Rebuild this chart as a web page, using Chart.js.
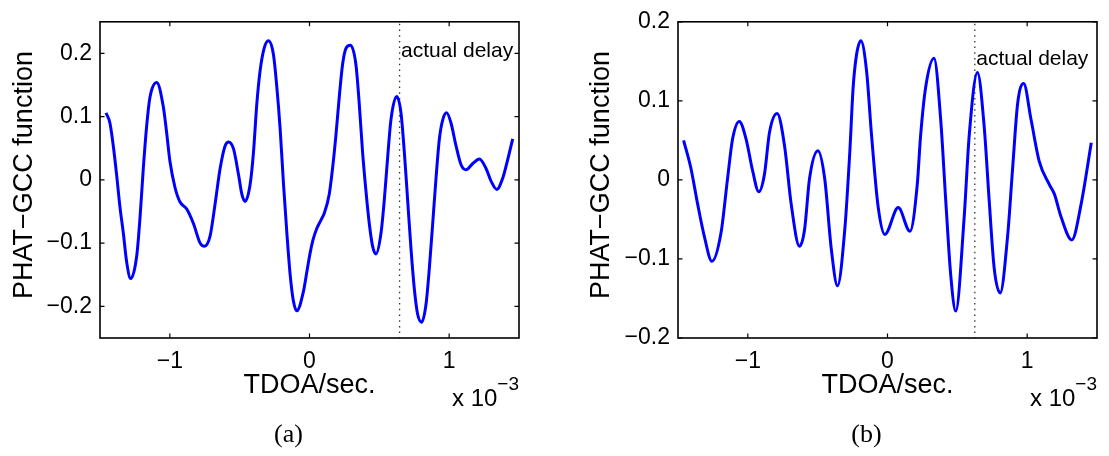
<!DOCTYPE html>
<html><head><meta charset="utf-8">
<script src="https://cdn.jsdelivr.net/npm/chart.js@4"></script>
<style>
html,body{margin:0;padding:0;background:#fff;width:1109px;height:456px;overflow:hidden}
canvas{position:absolute;top:0}
</style></head><body>
<canvas id="ca" width="555" height="456" style="left:0"></canvas>
<canvas id="cb" width="554" height="456" style="left:555px"></canvas>
<script>
// ---- data (TDOA in units of 1e-3 s) ----
const tdoaA=[-1.457,-1.429,-1.405,-1.381,-1.357,-1.333,-1.309,-1.280,-1.237,-1.213,-1.190,-1.166,-1.142,-1.094,-1.047,-1.023,-0.999,-0.963,-0.927,-0.879,-0.831,-0.783,-0.752,-0.712,-0.676,-0.640,-0.604,-0.580,-0.544,-0.508,-0.484,-0.461,-0.425,-0.401,-0.377,-0.354,-0.325,-0.294,-0.258,-0.234,-0.210,-0.186,-0.162,-0.138,-0.115,-0.091,-0.043,-0.015,0.005,0.025,0.050,0.081,0.105,0.141,0.165,0.189,0.213,0.237,0.261,0.292,0.332,0.356,0.380,0.404,0.428,0.452,0.476,0.512,0.535,0.559,0.583,0.624,0.655,0.679,0.703,0.727,0.750,0.774,0.803,0.834,0.858,0.882,0.906,0.930,0.954,0.982,1.013,1.049,1.085,1.121,1.169,1.217,1.264,1.300,1.341,1.384,1.420,1.455];
const phatA=[0.106,0.090,0.054,0.008,-0.043,-0.084,-0.130,-0.156,-0.120,-0.058,0.018,0.085,0.131,0.154,0.116,0.075,0.029,-0.012,-0.035,-0.046,-0.069,-0.100,-0.105,-0.089,-0.038,0.018,0.054,0.060,0.049,0.008,-0.023,-0.034,-0.007,0.044,0.121,0.172,0.208,0.220,0.198,0.147,0.080,-0.007,-0.084,-0.151,-0.192,-0.207,-0.176,-0.140,-0.115,-0.095,-0.078,-0.064,-0.053,-0.023,0.018,0.070,0.131,0.183,0.208,0.213,0.183,0.121,0.044,-0.017,-0.069,-0.105,-0.117,-0.084,-0.033,0.034,0.095,0.132,0.106,0.044,-0.033,-0.110,-0.171,-0.212,-0.225,-0.197,-0.140,-0.069,0.003,0.065,0.095,0.106,0.090,0.054,0.024,0.016,0.026,0.033,0.018,-0.002,-0.015,0.003,0.033,0.065];
const tdoaB=[-1.460,-1.408,-1.360,-1.312,-1.257,-1.192,-1.145,-1.109,-1.061,-1.013,-0.965,-0.922,-0.881,-0.845,-0.790,-0.737,-0.690,-0.630,-0.594,-0.558,-0.498,-0.450,-0.402,-0.358,-0.306,-0.270,-0.246,-0.222,-0.191,-0.150,-0.114,-0.067,-0.019,0.077,0.161,0.213,0.237,0.273,0.333,0.381,0.417,0.453,0.489,0.549,0.585,0.644,0.692,0.728,0.764,0.807,0.860,0.896,0.932,0.975,1.028,1.087,1.159,1.195,1.243,1.320,1.387,1.459];
const phatB=[0.050,0.015,-0.030,-0.071,-0.103,-0.067,0.002,0.052,0.074,0.052,0.011,-0.015,0.007,0.060,0.084,0.043,-0.030,-0.084,-0.063,0.002,0.037,0.002,-0.088,-0.134,-0.063,0.035,0.117,0.158,0.176,0.138,0.056,-0.034,-0.069,-0.035,-0.065,-0.006,0.056,0.117,0.154,0.076,-0.026,-0.121,-0.166,-0.047,0.056,0.136,0.068,-0.026,-0.112,-0.143,-0.071,0.015,0.097,0.122,0.076,0.023,-0.006,-0.018,-0.047,-0.076,-0.030,0.047];
const xTicks=[-1,0,1];
const yTicksA=[-0.2,-0.1,0,0.1,0.2];
const yTicksB=[-0.2,-0.1,0,0.1,0.2];
const delayA=0.645, delayB=0.625;
const yLabel='PHAT\u2212GCC function';
const xLabel='TDOA/sec.';
const delayText='actual delay';

const SANS='"Liberation Sans", Arial, Helvetica, sans-serif';
const SERIF='"Liberation Serif", "Times New Roman", serif';
const fmt=v=>v===0?'0':(v<0?'\u2212':'')+String(Math.abs(v));

const deco={
  id:'deco',
  beforeDatasetsDraw(chart){
    const o=chart.options.plugins.deco, a=chart.chartArea, ctx=chart.ctx;
    const px=chart.scales.x.getPixelForValue(o.delay);
    ctx.save();
    ctx.strokeStyle='#333';ctx.lineWidth=1.3;ctx.setLineDash([1.5,4.2]);
    ctx.beginPath();ctx.moveTo(px,a.top+2);ctx.lineTo(px,a.bottom);ctx.stroke();
    ctx.restore();
  },
  afterDatasetsDraw(chart){
    const a=chart.chartArea, ctx=chart.ctx, xs=chart.scales.x, ys=chart.scales.y;
    ctx.save();
    ctx.strokeStyle='#000';ctx.lineWidth=1.6;
    ctx.strokeRect(a.left,a.top,a.right-a.left,a.bottom-a.top);
    const L=4.5;
    ctx.beginPath();
    xs.ticks.forEach(t=>{const p=xs.getPixelForValue(t.value);
      ctx.moveTo(p,a.bottom);ctx.lineTo(p,a.bottom-L);ctx.moveTo(p,a.top);ctx.lineTo(p,a.top+L);});
    ys.ticks.forEach(t=>{const p=ys.getPixelForValue(t.value);
      ctx.moveTo(a.left,p);ctx.lineTo(a.left+L,p);ctx.moveTo(a.right,p);ctx.lineTo(a.right-L,p);});
    ctx.lineWidth=1.2;ctx.stroke();
    ctx.restore();
  },
  afterDraw(chart){
    const o=chart.options.plugins.deco, a=chart.chartArea, ctx=chart.ctx, xs=chart.scales.x, ys=chart.scales.y;
    ctx.save();ctx.fillStyle='#000';
    // y label
    ctx.font='27px '+SANS;ctx.textAlign='center';ctx.textBaseline='alphabetic';
    ctx.translate(o.yLabelX,175);ctx.rotate(-Math.PI/2);ctx.fillText(yLabel,0,0);
    ctx.setTransform(1,0,0,1,0,0);
    // x label
    const cx=xs.getPixelForValue(0);
    ctx.font='27px '+SANS;ctx.fillText(xLabel,cx,393);
    // exponent
    ctx.textAlign='right';
    ctx.font='19px '+SANS;ctx.fillText('\u22123',a.right,390);
    const w=ctx.measureText('\u22123').width;
    ctx.font='24px '+SANS;ctx.fillText('x 10',a.right-w,406);
    // actual delay
    ctx.textAlign='left';ctx.font='21px '+SANS;
    ctx.fillText(delayText,xs.getPixelForValue(o.delay)+1.5,ys.getPixelForValue(o.textY));
    // caption
    ctx.textAlign='center';ctx.font='26px '+SERIF;
    ctx.fillText(o.caption,cx-21,442);
    ctx.restore();
  }
};

function make(id,xs,ys,yMin,yMax,yTicks,delay,g,caption,yLabelX,textY){
  const W=document.getElementById(id).width;
  return new Chart(document.getElementById(id),{
    type:'line',
    data:{datasets:[{data:xs.map((x,i)=>({x:x,y:ys[i]})),borderColor:'#0000ff',borderWidth:3,
      pointRadius:0,fill:false,cubicInterpolationMode:'monotone'}]},
    options:{
      responsive:false,animation:false,devicePixelRatio:1,
      layout:{padding:{left:0,top:g.top,right:W-g.right,bottom:0}},
      plugins:{legend:{display:false},tooltip:{enabled:false},
        deco:{delay:delay,caption:caption,yLabelX:yLabelX,textY:textY}},
      scales:{
        x:{type:'linear',min:-1.5,max:1.5,
          afterBuildTicks:s=>{s.ticks=xTicks.map(v=>({value:v}));},
          afterFit:s=>{s.height=456-g.bottom;},
          grid:{display:false,drawTicks:false},border:{display:false},
          ticks:{autoSkip:false,maxRotation:0,padding:10,color:'#000',font:{family:SANS,size:23},callback:v=>fmt(v)}},
        y:{type:'linear',min:yMin,max:yMax,
          afterBuildTicks:s=>{s.ticks=yTicks.map(v=>({value:v}));},
          afterFit:s=>{s.width=g.left;},
          grid:{display:false,drawTicks:false},border:{display:false},
          ticks:{autoSkip:false,padding:8,color:'#000',font:{family:SANS,size:23},callback:v=>fmt(v)}}
      }
    },
    plugins:[deco]
  });
}
make('ca',tdoaA,phatA,-0.25,0.25,yTicksA,delayA,{left:100,right:519,top:14,bottom:338},'(a)',31.7,0.194);
make('cb',tdoaB,phatB,-0.2,0.2,yTicksB,delayB,{left:123,right:542,top:14,bottom:338},'(b)',54.3,0.145);
</script>
</body></html>
